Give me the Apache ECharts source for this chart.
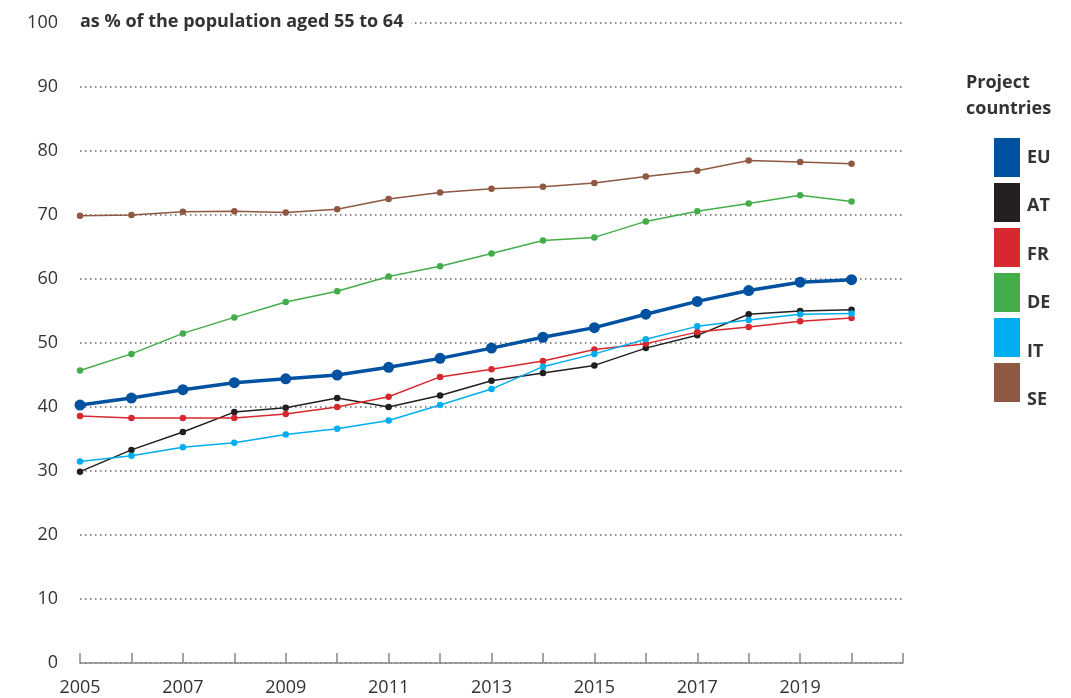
<!DOCTYPE html>
<html>
<head>
<meta charset="utf-8">
<title>Employment rate 55-64</title>
<script src="https://cdn.jsdelivr.net/npm/echarts@6/dist/echarts.min.js"></script>
<style>
  html, body { margin: 0; padding: 0; background: #fff; }
  #chart { width: 1071px; height: 698px; }
</style>
</head>
<body>
<div id="chart"></div>
<script>
// years on the x axis
const years = [2005, 2006, 2007, 2008, 2009, 2010, 2011, 2012, 2013, 2014, 2015, 2016, 2017, 2018, 2019, 2020]

// employment rate, % of population aged 55-64
const euValues = [40.3, 41.4, 42.7, 43.8, 44.4, 45.0, 46.2, 47.6, 49.2, 50.9, 52.4, 54.5, 56.5, 58.2, 59.5, 59.9]
const atValues = [29.9, 33.3, 36.1, 39.2, 39.9, 41.4, 40.0, 41.8, 44.1, 45.3, 46.5, 49.2, 51.2, 54.5, 55.0, 55.2]
const frValues = [38.6, 38.3, 38.3, 38.3, 38.9, 40.0, 41.6, 44.7, 45.9, 47.2, 49.0, 49.9, 51.7, 52.5, 53.4, 53.9]
const deValues = [45.7, 48.3, 51.5, 54.0, 56.4, 58.1, 60.4, 62.0, 64.0, 66.0, 66.5, 69.0, 70.6, 71.8, 73.1, 72.1]
const itValues = [31.5, 32.4, 33.7, 34.4, 35.7, 36.6, 37.9, 40.3, 42.8, 46.3, 48.3, 50.6, 52.6, 53.6, 54.5, 54.6]
const seValues = [69.9, 70.0, 70.5, 70.6, 70.4, 70.9, 72.5, 73.5, 74.1, 74.4, 75.0, 76.0, 76.9, 78.5, 78.3, 78.0]

const yTicks = [0, 10, 20, 30, 40, 50, 60, 70, 80, 90, 100]
const xLabels = [2005, 2007, 2009, 2011, 2013, 2015, 2017, 2019]
const legendNames = ['EU', 'AT', 'FR', 'DE', 'IT', 'SE']

const chart = echarts.init(document.getElementById('chart'))

// 组合 [年份, 数值]
const toPairs = (vals) => vals.map((v, i) => [years[i], v])

const thinLine = (name, color, vals) => ({
  name: name,
  type: 'line',
  data: toPairs(vals),
  symbol: 'circle',
  symbolSize: 6.5,
  lineStyle: { width: 1.5, color: color },
  itemStyle: { color: color },
  z: 2
})

// 图例文字：原图里越往下越偏低
const legendLabelTops = [149, 197, 246, 294, 343, 391]
const legendLabels = legendNames.map((name, i) => ({
  type: 'text',
  left: 1027,
  top: legendLabelTops[i],
  style: { text: name, font: 'bold 18px "Open Sans"', fill: '#333' }
}))

const option = {
  animation: false,
  textStyle: { fontFamily: 'Open Sans' },
  grid: { left: 80, right: 168, top: 23, bottom: 35 },
  legend: {
    orient: 'vertical',
    left: 994,
    top: 138,
    padding: 0,
    icon: 'rect',
    itemWidth: 26,
    itemHeight: 39,
    itemGap: 6,
    formatter: () => '',
    textStyle: { fontSize: 18 },
    data: legendNames
  },
  xAxis: {
    type: 'value',
    min: 2005,
    max: 2021,
    interval: 1,
    offset: 2,
    axisLine: { lineStyle: { color: '#888', width: 1.5 } },
    axisTick: { inside: true, length: 10, lineStyle: { color: '#888', width: 1.5 } },
    axisLabel: {
      fontSize: 18,
      color: '#333',
      margin: 14,
      formatter: (v) => (xLabels.includes(v) ? String(v) : '')
    },
    splitLine: { show: false }
  },
  yAxis: {
    type: 'value',
    min: yTicks[0],
    max: yTicks[yTicks.length - 1],
    interval: 10,
    axisLine: { show: false },
    axisTick: { show: false },
    axisLabel: { fontSize: 18, color: '#333', margin: 22, padding: [0, 0, 4, 0] },
    splitLine: { lineStyle: { type: [1.5, 3.5], color: '#666', width: 1.5 } }
  },
  graphic: [
    {
      type: 'text',
      left: 80,
      top: 13,
      style: {
        text: 'as % of the population aged 55 to 64',
        font: 'bold 18px "Open Sans"',
        fill: '#333',
        backgroundColor: '#fff',
        padding: [0, 8, 0, 0]
      },
      z: 100
    },
    {
      type: 'text',
      left: 966,
      top: 70,
      style: {
        text: 'Project\ncountries',
        font: 'bold 18px "Open Sans"',
        fill: '#333',
        align: 'center',
        lineHeight: 26,
        width: 86
      }
    },
    ...legendLabels
  ],
  series: [
    {
      name: 'EU',
      type: 'line',
      data: toPairs(euValues),
      symbol: 'circle',
      symbolSize: 11,
      lineStyle: { width: 3.5, color: '#0052a0' },
      itemStyle: { color: '#0052a0' },
      z: 5
    },
    thinLine('AT', '#231f20', atValues),
    thinLine('FR', '#d7282f', frValues),
    thinLine('DE', '#44ad4a', deValues),
    thinLine('IT', '#00aeef', itValues),
    thinLine('SE', '#8e5842', seValues)
  ]
}

chart.setOption(option)
</script>
</body>
</html>
